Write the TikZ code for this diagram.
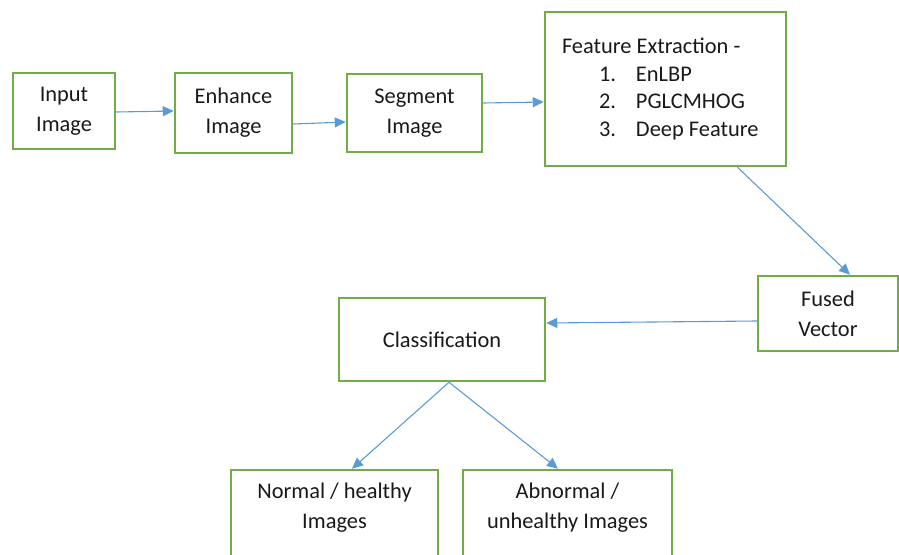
\documentclass[tikz,border=0pt]{standalone}
\usepackage{fontspec}
\setmainfont{Carlito}
\usetikzlibrary{arrows.meta,calc}
\definecolor{boxgreen}{HTML}{70AD47}
\definecolor{arrowblue}{HTML}{5B9BD5}
\begin{document}
\begin{tikzpicture}[x=1pt,y=-1pt,
  box/.style={draw=boxgreen, line width=2.5pt, rectangle, inner sep=0pt, align=center,
    font=\fontsize{22.4}{30}\selectfont, text=black!90},
  conn/.style={draw=arrowblue, line width=1.1pt, -{Triangle[length=11pt,width=10pt]}}]
\useasboundingbox (0,0) rectangle (899,554);
\clip (0,0) rectangle (899,554);
\node[box, minimum width=102, minimum height=76] (inp) at (64,111) {Input\\Image};
\node[box, minimum width=117, minimum height=80] (enh) at (233.5,113) {Enhance\\Image};
\node[box, minimum width=135, minimum height=78] (seg) at (414.5,113) {Segment\\Image};
\node[box, minimum width=241, minimum height=154, align=left,
      font=\fontsize{22.4}{27.7}\selectfont] (feat) at (665.5,89)
  {\makebox[207pt][l]{Feature Extraction -}\\
   \makebox[207pt][l]{\hspace*{37pt}\makebox[37pt][l]{1.}EnLBP}\\
   \makebox[207pt][l]{\hspace*{37pt}\makebox[37pt][l]{2.}PGLCMHOG}\\
   \makebox[207pt][l]{\hspace*{37pt}\makebox[37pt][l]{3.}Deep Feature}};
\node[box, minimum width=140, minimum height=75] (fus) at (828,313.5) {Fused\\Vector};
\node[box, minimum width=206, minimum height=83] (cls) at (442,339.5) {Classification};
\node[box, minimum width=207, minimum height=88, text depth=16pt] (nor) at (334.5,514) {Normal / healthy\\Images};
\node[box, minimum width=209, minimum height=88, text depth=16pt] (abn) at (567.5,514) {Abnormal /\\unhealthy Images};
\draw[conn] ($(inp.east)+(0,1)$) -- ($(enh.west)+(0,-2)$);
\draw[conn] ($(enh.east)+(0,11)$) -- ($(seg.west)+(0,9)$);
\draw[conn] ($(seg.east)+(0,-10)$) -- ($(feat.west)+(0,13)$);
\draw[conn] ($(feat.south)+(72,0)$) -- ($(fus.north)+(22,0)$);
\draw[conn] ($(fus.west)+(0,7.5)$) -- ($(cls.east)+(0,-16.5)$);
\draw[conn] ($(cls.south)+(7,0)$) -- ($(nor.north)+(17.5,0)$);
\draw[conn] ($(cls.south)+(7,0)$) -- ($(abn.north)+(-9.5,0)$);
\end{tikzpicture}
\end{document}
